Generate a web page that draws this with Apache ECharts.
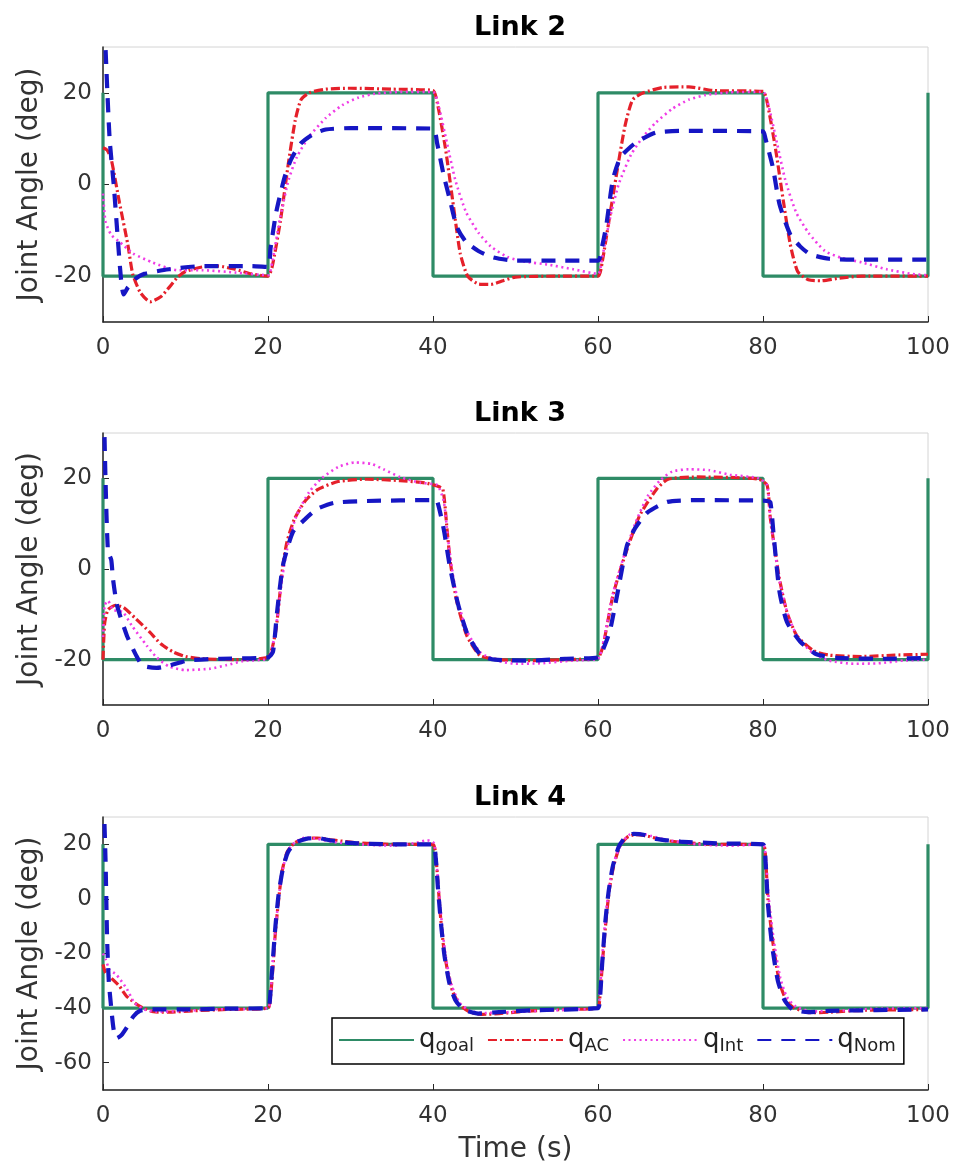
<!DOCTYPE html>
<html><head><meta charset="utf-8">
<script src="https://cdn.jsdelivr.net/npm/echarts@6/dist/echarts.min.js"></script>
<style>html,body{margin:0;padding:0;background:#fff}#c{width:954px;height:1172px}</style>
</head><body><div id="c"></div>
<script>
// ---------- data ----------
const titles = ['Link 2', 'Link 3', 'Link 4'];
const seriesNames = ['goal', 'AC', 'Int', 'Nom'];
const xTicks = [0, 20, 40, 60, 80, 100];
const yTicksA = [-20, 0, 20];
const yTicksB = [-60, -40, -20, 0, 20];

const link2_goal = [[0,20],[0,-20],[20,-20],[20,20],[40,20],[40,-20],[60,-20],[60,20],[80,20],[80,-20],[100,-20],[100,20]];
const link2_AC = [[0,8],[0.5,7.5],[1,5.5],[2,-4],[3,-13],[3.6,-19.5],[4.5,-23.5],[5.7,-25.6],[7,-24.5],[8,-22.5],[9,-20.3],[10,-19],[12,-18],[14,-17.8],[16,-18.5],[18,-19.5],[20,-20],[20.5,-18],[21.5,-8],[22.5,5],[23.3,14],[24,18.5],[25,20],[27,20.8],[30,21],[35,20.8],[40,20.5],[40.5,18],[41.5,8],[42.5,-5],[43.3,-15],[44.2,-20],[45.5,-21.7],[47,-21.8],[48.5,-21],[50,-20.2],[55,-20],[60,-20],[60.5,-17],[61.5,-6],[62.5,5],[63.3,13],[64.2,18.5],[65.5,20],[68,21.2],[71,21.3],[74,20.5],[80,20.3],[80.5,18],[81.5,8],[82.5,-4],[83.3,-13],[84.2,-19],[85.5,-20.8],[87,-21],[89,-20.5],[92,-20],[100,-20]];
const link2_Int = [[0,-2],[0.3,-8],[1,-11],[2,-12.5],[3.6,-15],[6,-17],[9,-18.7],[12,-18.7],[16,-19.2],[20,-19.8],[20.5,-17],[21.5,-7],[22.5,1],[23.5,6],[25,10.5],[27,14.5],[29,17.3],[31,19],[33,19.8],[36,20.2],[40,20.2],[40.7,17],[41.7,9],[42.7,1],[44,-6],[45.5,-10.5],[47,-13.5],[49,-15.8],[51,-16.8],[54,-17.5],[57,-18.5],[60,-19.5],[60.5,-16],[61.5,-7],[62.5,0],[64,6.5],[65.5,10.5],[67,13.5],[69,16.5],[71,18.5],[73,19.5],[76,20.1],[80,20.2],[80.7,17],[81.7,9],[82.7,1],[84,-6],[85.5,-10.5],[87.5,-14.5],[89.5,-16],[92,-17],[95,-18.5],[98,-19.5],[100,-19.8]];
const link2_Nom = [[0,45],[0.3,30],[0.8,10],[1.3,0],[1.8,-12],[2.2,-21],[2.5,-24],[3,-22.5],[4,-20.5],[5,-19.5],[8,-18.5],[12,-17.8],[18,-17.8],[20,-18],[20.3,-14],[21,-6],[22,1.5],[22.8,5.5],[24,9],[25.5,11],[27,12],[30,12.3],[40,12.2],[40.5,9],[41.3,2],[42,-3],[42.9,-9.3],[44,-12.5],[45.5,-14.5],[47.3,-15.9],[50,-16.6],[55,-16.6],[60,-16.6],[60.5,-13.5],[61,-9],[61.8,1],[62.7,5.9],[64,8.3],[65,9.6],[67,11.3],[70,11.7],[80,11.6],[80.3,10],[81.2,3.7],[82,-4.3],[83.3,-10.9],[84.5,-13.5],[85.7,-15.2],[88,-16.2],[92,-16.4],[100,-16.4]];

const link3_goal = [[0,20],[0,-20],[20,-20],[20,20],[40,20],[40,-20],[60,-20],[60,20],[80,20],[80,-20],[100,-20],[100,20]];
const link3_AC = [[0,-20],[0.2,-12],[0.6,-9],[1.5,-8],[2.5,-8.5],[4,-11],[5.7,-14],[7,-16.5],[8.5,-18.3],[10,-19.3],[12,-19.8],[16,-20],[20,-19.5],[20.5,-17.5],[21,-13],[21.8,0.7],[22.3,6],[23.2,11],[24.5,15],[26,17.5],[28.5,19.3],[32,19.8],[36,19.5],[39,19],[40.5,18.3],[41.2,17.6],[41.7,8.8],[42.1,1.5],[42.9,-7.3],[44.1,-14.7],[45.7,-19.1],[48,-20],[52,-20.2],[56,-20],[60,-19.5],[60.6,-17],[61.8,-5.9],[63,1.5],[65,11.6],[67.1,17.6],[68.5,19.8],[72,20.3],[76,20.2],[79.5,19.8],[80.5,18.5],[80.9,11],[82,-2.2],[82.9,-9.5],[84.1,-14.7],[86.1,-18],[88,-19],[92,-19.3],[96,-19],[100,-18.8]];
const link3_Int = [[0,-15],[0.2,-8],[0.6,-7],[1.2,-9],[2.4,-9.5],[3.5,-12.5],[5.3,-16.9],[6.5,-19.5],[8,-21.5],[10,-22.3],[13,-22],[15,-21.2],[17,-20.3],[20,-19.8],[20.5,-17.5],[21.1,-11],[21.8,-1],[22.5,6],[23.5,12],[25,17],[26.5,20],[28.5,22.5],[30.5,23.5],[32.5,23.2],[34,22],[36,20.3],[38.5,19],[40.5,18.5],[41.3,15],[41.8,7],[42.3,0],[43,-7],[44.2,-14],[45.8,-18.5],[48,-20.3],[50,-20.9],[53,-20.8],[57,-20.2],[60,-19.8],[60.6,-16.5],[61.8,-5.5],[63,2],[64.5,10],[66,16],[67.5,19.5],[69,21.5],[71,22],[73.5,21.8],[76,20.8],[79.5,20],[80.5,18.5],[80.9,11],[82,-2.5],[83,-10],[84.2,-15],[86,-18.5],[88,-20.2],[91,-20.9],[94,-20.8],[97,-20.2],[100,-20]];
const link3_Nom = [[0,45],[0.3,20],[0.6,4],[1,2],[1.2,-2],[1.7,-8],[2.9,-14.7],[4,-19],[4.8,-21.3],[6.5,-21.8],[8.1,-21.3],[10.2,-20.2],[14,-19.8],[20,-19.5],[20.6,-18.3],[21.1,-9.5],[21.8,0.7],[23,8.1],[24.5,11],[25.9,13.2],[28,14.6],[32,15],[40,15.2],[40.5,15],[41.3,8.8],[42,1],[43,-7.5],[44.2,-14.5],[45.8,-19],[47.5,-20],[52,-20.2],[56,-19.8],[60,-19.5],[61,-16],[61.5,-13.2],[62.3,-5.9],[63.5,5.1],[64.5,9],[66,12.5],[68.4,14.8],[72,15.2],[80,15.1],[80.5,15],[80.9,14.7],[81.3,7.3],[82,-5],[82.9,-11.7],[84.5,-16],[86.5,-18.8],[89,-19.6],[95,-19.8],[100,-19.6]];

const link4_goal = [[0,20],[0,-40],[20,-40],[20,20],[40,20],[40,-40],[60,-40],[60,20],[80,20],[80,-40],[100,-40],[100,20]];
const link4_AC = [[0,-24],[0.3,-27],[1,-29],[2,-32],[2.9,-35.8],[4.5,-39.4],[6.1,-41.3],[8,-41.5],[11,-41],[15,-40.5],[20,-40],[20.3,-36],[20.6,-25],[20.9,-12],[21.3,0],[21.7,10],[22.3,17],[23.2,20.5],[24.5,22],[26,22.3],[28,21.5],[31,20.5],[35,20],[40,20],[40.3,17],[40.6,6],[40.9,-6],[41.3,-18],[41.8,-27],[42.4,-34],[43.3,-39],[44.5,-41.5],[46,-42.3],[48,-42],[52,-41],[56,-40.5],[60,-40],[60.2,-37],[60.6,-21],[61,-7],[61.4,4],[61.9,12],[62.6,19],[63.5,22.5],[64.5,23.5],[66,23],[68,21.5],[71,20.5],[75,20],[80,20],[80.3,15.6],[80.6,-0.2],[81.2,-16],[82,-30.6],[82.8,-37],[83.7,-39.8],[85.7,-41.7],[88,-41.5],[92,-40.8],[100,-40.5]];
const link4_Int = [[0,-20],[0.3,-22],[0.8,-26],[1.6,-27.7],[2.9,-33],[3.8,-38],[5,-40.5],[6.5,-41.3],[9,-41.2],[13,-40.5],[20,-40],[20.3,-35],[20.6,-22],[21,-8],[21.4,3],[21.8,11],[22.4,17.5],[23.3,20.8],[24.6,22.5],[26,22],[28,20.8],[31,20],[35,19.5],[38,20.5],[39.3,21.5],[40.1,20.5],[40.4,14],[40.8,0],[41.2,-13],[41.7,-24],[42.3,-32],[43.2,-38],[44.5,-41],[46,-41.8],[49,-41.5],[53,-41],[57,-40.5],[60,-40],[60.2,-35],[60.6,-18],[61,-4],[61.5,7],[62,14],[62.8,20],[63.8,23.5],[65,24],[66.5,23],[68.5,21.5],[72,20],[76,19.5],[80,20],[80.3,16],[80.7,0],[81.3,-15],[82.1,-29],[82.9,-36],[84,-39.5],[86,-41.2],[89,-41],[93,-40.3],[100,-40]];
const link4_Nom = [[0,45],[0.3,15],[0.5,-15],[0.7,-30],[1,-40],[1.3,-48],[1.7,-51],[2.2,-50],[2.9,-47],[3.7,-43],[4.5,-41],[6,-40.5],[10,-40.5],[15,-40.2],[20,-40],[20.2,-38],[20.5,-26],[20.9,-10],[21.3,2],[21.8,11],[22.4,17],[23.3,20.5],[24.6,22],[26,22.3],[27.5,21.5],[30,20.5],[35,20],[40,20],[40.3,16],[40.6,4],[41,-10],[41.4,-21],[42,-31],[42.7,-37],[43.7,-40.5],[45.5,-42],[48,-41.5],[52,-40.8],[60,-40],[60.2,-38],[60.5,-24],[60.9,-8],[61.3,3],[61.8,12],[62.5,19],[63.3,22.5],[64.3,23.8],[65.5,23.5],[67,22],[70,21],[75,20.3],[80,20],[80.3,14],[80.6,-2],[81.1,-17],[81.8,-30],[82.6,-37],[83.6,-40.5],[85.5,-41.5],[88,-41],[100,-40.5]];

const panelData = [
  [link2_goal, link2_AC, link2_Int, link2_Nom],
  [link3_goal, link3_AC, link3_Int, link3_Nom],
  [link4_goal, link4_AC, link4_Int, link4_Nom]
];
const yRanges = [[-30, 30], [-30, 30], [-70, 30]];
const yTickSets = [yTicksA, yTicksA, yTicksB];

// ---------- styling ----------
const FONT = 'DejaVu Sans';
const gridTops = [47, 433, 817];
const gridHeights = [275, 272, 273];
const styles = [
  {color: '#2e8b66', width: 3.2, type: 'solid', smooth: false},
  {color: '#e5202a', width: 3.2, type: [9, 3, 2, 3], smooth: 0.2},
  {color: '#f03ce6', width: 2.6, type: [2, 3.5], smooth: 0.2},
  {color: '#1616c4', width: 4.2, type: [14, 10], smooth: 0.2}
];

const grids = [], xAxes = [], yAxes = [], series = [], title = [];
for (let p = 0; p < 3; p++) {
  grids.push({left: 103, width: 825, top: gridTops[p], height: gridHeights[p],
    show: true, borderColor: '#d4d4d4', borderWidth: 1, backgroundColor: '#fff'});
  title.push({text: titles[p], left: 515, top: gridTops[p] - 38, textAlign: 'center',
    textStyle: {fontFamily: FONT, fontSize: 27, fontWeight: 'bold', color: '#000'}});
  xAxes.push({type: 'value', gridIndex: p, min: 0, max: 100, interval: 20,
    name: p === 2 ? 'Time (s)' : '', nameLocation: 'middle', nameGap: 46,
    nameTextStyle: {fontFamily: FONT, fontSize: 28, color: '#333'},
    axisLine: {show: true, onZero: false, lineStyle: {color: '#262626', width: 1.5}},
    axisTick: {show: true, inside: true, length: 6, lineStyle: {color: '#262626'}, customValues: xTicks},
    axisLabel: {fontFamily: FONT, fontSize: 23, color: '#333', margin: 15, customValues: xTicks},
    splitLine: {show: false}});
  yAxes.push({type: 'value', gridIndex: p, min: yRanges[p][0], max: yRanges[p][1],
    name: 'Joint Angle (deg)', nameLocation: 'middle', nameGap: 57,
    nameTextStyle: {fontFamily: FONT, fontSize: 28, color: '#333'},
    axisLine: {show: true, onZero: false, lineStyle: {color: '#262626', width: 1.5}},
    axisTick: {show: true, inside: true, length: 6, lineStyle: {color: '#262626'}, customValues: yTickSets[p]},
    axisLabel: {fontFamily: FONT, fontSize: 23, color: '#333', margin: 11, customValues: yTickSets[p]},
    splitLine: {show: false}});
  for (let s = 0; s < 4; s++) {
    series.push({type: 'line', name: seriesNames[s], xAxisIndex: p, yAxisIndex: p,
      data: panelData[p][s], showSymbol: false, symbol: 'none', smooth: styles[s].smooth,
      clip: true, animation: false, z: 2 + s,
      lineStyle: {color: styles[s].color, width: styles[s].width, type: styles[s].type},
      itemStyle: {color: styles[s].color}});
  }
}

const chart = echarts.init(document.getElementById('c'), null, {renderer: 'canvas'});
chart.setOption({
  animation: false,
  backgroundColor: '#fff',
  title: title,
  grid: grids, xAxis: xAxes, yAxis: yAxes, series: series,
  legend: {
    data: seriesNames, left: 332, top: 1018, orient: 'horizontal',
    itemWidth: 75, itemHeight: 14, itemGap: 13, padding: [9, 8, 9, 6],
    backgroundColor: '#fff', borderColor: '#000', borderWidth: 1.5,
    selectedMode: false,
    itemStyle: {color: 'rgba(0,0,0,0)', borderWidth: 0, opacity: 0},
    formatter: n => '{q|q}{s|' + n + '}',
    textStyle: {fontFamily: FONT, color: '#222',
      rich: {q: {fontFamily: FONT, fontSize: 26, lineHeight: 30, verticalAlign: 'middle', color: '#222'},
             s: {fontFamily: FONT, fontSize: 18, lineHeight: 16, verticalAlign: 'bottom', color: '#222'}}}
  }
});
</script></body></html>
